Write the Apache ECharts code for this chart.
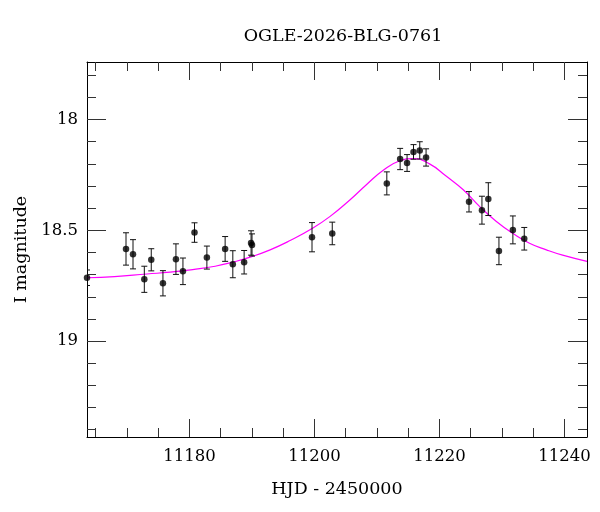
<!DOCTYPE html>
<html>
<head>
    <meta charset="utf-8">
    <title>OGLE-2026-BLG-0761</title>
    <script src="https://cdn.jsdelivr.net/npm/echarts@6/dist/echarts.min.js"></script>
    <style>
        body { margin: 0; background: #fff; }
        #chart { width: 600px; height: 512px; }
    </style>
</head>
<body>
    <div id="chart"></div>
    <script type="text/javascript">
        // photometry (HJD - 2450000, I mag, error)
        var hjd = [11163.6, 11169.84, 11170.96, 11172.77, 11173.88, 11175.75, 11177.83, 11178.95,
                   11180.8, 11182.78, 11185.7, 11186.93, 11188.74, 11189.85, 11190.0,
                   11199.6, 11202.84, 11211.57, 11213.7, 11214.81, 11215.84, 11216.84, 11217.85,
                   11224.72, 11226.79, 11227.81, 11229.51, 11231.74, 11233.56];
        var mag = [18.714, 18.584, 18.608, 18.721, 18.633, 18.739, 18.630, 18.685,
                   18.510, 18.623, 18.584, 18.653, 18.644, 18.557, 18.566,
                   18.531, 18.514, 18.288, 18.178, 18.196, 18.146, 18.139, 18.171,
                   18.371, 18.409, 18.359, 18.593, 18.498, 18.538];
        var magErr = [0.035, 0.073, 0.066, 0.059, 0.050, 0.057, 0.069, 0.060,
                      0.044, 0.052, 0.056, 0.061, 0.053, 0.055, 0.050,
                      0.066, 0.051, 0.052, 0.048, 0.038, 0.033, 0.039, 0.039,
                      0.046, 0.063, 0.074, 0.062, 0.063, 0.051];

        // model curve
        var modelHjd = [11163.6, 11168, 11173.2, 11176.9, 11180.5, 11184.1, 11187, 11189.7,
                        11192.9, 11196.1, 11199.55, 11202.5, 11205.7, 11208.3, 11211.0, 11213.65,
                        11215.8, 11218.4, 11221.1, 11223.8, 11226.4, 11229.1, 11231.7, 11234.4,
                        11237.1, 11239.7, 11243.6];
        var modelMag = [18.714, 18.709, 18.697, 18.689, 18.677, 18.662, 18.643, 18.621,
                        18.588, 18.546, 18.493, 18.437, 18.362, 18.294, 18.229, 18.186,
                        18.176, 18.200, 18.256, 18.317, 18.392, 18.460, 18.513, 18.558,
                        18.588, 18.612, 18.640];

        var xMajor = [11180, 11200, 11220, 11240];
        var xMinor = [11165, 11170, 11175, 11185, 11190, 11195, 11205, 11210, 11215,
                      11225, 11230, 11235];
        var yMajor = [18, 18.5, 19];
        var yMinor = [17.8, 17.9, 18.1, 18.2, 18.3, 18.4, 18.6, 18.7, 18.8, 18.9,
                      19.1, 19.2, 19.3, 19.4];

        var xMin = 11163.6, xMax = 11243.6;
        var yMin = 17.74, yMax = 19.433;
        var font = "DejaVu Serif";

        var points = [];
        for (var i = 0; i < hjd.length; i++) {
            points.push([hjd[i], mag[i], magErr[i]]);
        }
        var model = [];
        for (var j = 0; j < modelHjd.length; j++) {
            model.push([modelHjd[j], modelMag[j]]);
        }

        function xAx(pos, ticks, len, withLabel, withLine) {
            return {
                type: 'value', position: pos, min: xMin, max: xMax,
                name: withLabel ? 'HJD - 2450000' : '',
                nameLocation: 'middle', nameGap: 43,
                nameTextStyle: { fontFamily: font, fontSize: 17.5, color: '#000' },
                axisLine: { show: withLine, onZero: false, lineStyle: { color: '#000', width: 1 } },
                axisTick: { show: true, inside: true, length: len, customValues: ticks,
                            lineStyle: { color: '#333', width: 1 } },
                axisLabel: { show: withLabel, customValues: xMajor, margin: 11,
                             fontFamily: font, fontSize: 16.5, color: '#000',
                             formatter: function (v) { return String(Math.round(v)); } },
                splitLine: { show: false }
            };
        }
        function yAx(pos, ticks, len, withLabel, withLine) {
            return {
                type: 'value', position: pos, min: yMin, max: yMax, inverse: true,
                name: withLabel ? 'I magnitude' : '',
                nameLocation: 'middle', nameGap: 57,
                nameTextStyle: { fontFamily: font, fontSize: 17.5, color: '#000' },
                axisLine: { show: withLine, onZero: false, lineStyle: { color: '#000', width: 1 } },
                axisTick: { show: true, inside: true, length: len, customValues: ticks,
                            lineStyle: { color: '#333', width: 1 } },
                axisLabel: { show: withLabel, customValues: yMajor, margin: 9,
                             fontFamily: font, fontSize: 16.5, color: '#000',
                             formatter: function (v) { return String(+v.toFixed(1)); } },
                splitLine: { show: false }
            };
        }

        var myChart = echarts.init(document.getElementById('chart'), null, { renderer: 'canvas' });
        var option = {
            animation: false,
            backgroundColor: '#fff',
            title: {
                text: 'OGLE-2026-BLG-0761', left: 338, top: 22, textAlign: 'center',
                textStyle: { fontFamily: font, fontSize: 17.5, fontWeight: 'normal', color: '#000' }
            },
            grid: { left: 87, right: 13, top: 62, bottom: 75 },
            xAxis: [
                xAx('bottom', xMajor, 18, true, true),
                xAx('bottom', xMinor, 9, false, false),
                xAx('top', xMajor, 18, false, true),
                xAx('top', xMinor, 9, false, false)
            ],
            yAxis: [
                yAx('left', yMajor, 19, true, true),
                yAx('left', yMinor, 9, false, false),
                yAx('right', yMajor, 19, false, true),
                yAx('right', yMinor, 9, false, false)
            ],
            series: [
                {
                    type: 'line', data: model, smooth: true, showSymbol: false,
                    lineStyle: { color: '#ff00ff', width: 1.2 }, z: 2
                },
                {
                    type: 'custom', data: points, z: 3, clip: true,
                    renderItem: function (params, api) {
                        var top = api.coord([api.value(0), api.value(1) - api.value(2)]);
                        var bot = api.coord([api.value(0), api.value(1) + api.value(2)]);
                        var cap = 3;
                        var st = { stroke: '#111', lineWidth: 1 };
                        return {
                            type: 'group',
                            children: [
                                { type: 'line', shape: { x1: top[0], y1: top[1], x2: bot[0], y2: bot[1] }, style: st },
                                { type: 'line', shape: { x1: top[0] - cap, y1: top[1], x2: top[0] + cap, y2: top[1] }, style: st },
                                { type: 'line', shape: { x1: bot[0] - cap, y1: bot[1], x2: bot[0] + cap, y2: bot[1] }, style: st }
                            ]
                        };
                    }
                },
                {
                    type: 'scatter', data: points, symbol: 'circle', symbolSize: 6.5, clip: true,
                    itemStyle: { color: '#000' }, z: 4
                }
            ]
        };
        myChart.setOption(option);
    </script>
</body>
</html>
